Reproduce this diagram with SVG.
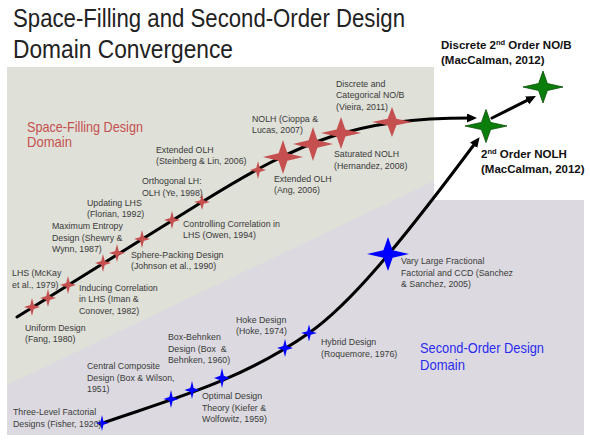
<svg xmlns="http://www.w3.org/2000/svg" xmlns:xlink="http://www.w3.org/1999/xlink" width="590" height="441" viewBox="0 0 590 441">
<style>
.lbl{font-family:"Liberation Sans",Arial,sans-serif;font-size:8.8px;fill:#3a3a3a}
.bold{font-family:"Liberation Sans",Arial,sans-serif;font-size:11.5px;font-weight:bold;fill:#111}
.title{font-family:"Liberation Sans",Arial,sans-serif;font-size:26px;fill:#222}
.head{font-family:"Liberation Sans",Arial,sans-serif;font-size:14.5px}
.red{fill:#c5504f}
.blue{fill:#0000ff}
.green{fill:#0a7d0a;stroke:#064d06;stroke-width:0.8}
.curve{fill:none;stroke:#000;stroke-width:3;stroke-linecap:round}
</style>
<defs>
<path id="star" d="M0,-1 L0.22,-0.22 L1,0 L0.22,0.22 L0,1 L-0.22,0.22 L-1,0 L-0.22,-0.22 Z"/>
<marker id="arr" markerWidth="12" markerHeight="10" refX="4" refY="4.5" orient="auto" markerUnits="userSpaceOnUse">
<path d="M0,0 L10,4.5 L0,9 Z" fill="#000"/>
</marker>
</defs>

<rect width="590" height="441" fill="#fff"/>
<g id="backgrounds">
<rect x="7" y="67" width="427" height="330" fill="#dfe0d8"/>
<polygon points="7,385 434,181 434,200 584,200 584,435 7,435" fill="#dcdae0"/>
</g>

<g id="title">
<text class="title" x="13" y="27" textLength="392" lengthAdjust="spacingAndGlyphs">Space-Filling and Second-Order Design</text>
<text class="title" x="13" y="58" textLength="220" lengthAdjust="spacingAndGlyphs">Domain Convergence</text>
</g>

<g id="domain-labels">
<text class="head" fill="#c5504f" x="27" y="132" textLength="116" lengthAdjust="spacingAndGlyphs">Space-Filling Design</text>
<text class="head" fill="#c5504f" x="27" y="147" textLength="45" lengthAdjust="spacingAndGlyphs">Domain</text>
<text class="head" fill="#2b2bf0" x="420" y="353" textLength="124" lengthAdjust="spacingAndGlyphs">Second-Order Design</text>
<text class="head" fill="#2b2bf0" x="420" y="370" textLength="45" lengthAdjust="spacingAndGlyphs">Domain</text>
</g>

<g id="connectors">
<path class="curve" d="M17,317 L202,202 C302,140 356,118 471,118" marker-end="url(#arr)"/>
<path class="curve" d="M100,424 C170,399.5 239,382 309,333 C349,305 397,248 476,142" marker-end="url(#arr)"/>
<path class="curve" d="M492,118 L530.6,98.7" marker-end="url(#arr)"/>
</g>

<g id="uniform">
<use xlink:href="#star" class="red" transform="translate(32,307) scale(8,9)"/>
<text class="lbl" x="25" y="331">Uniform Design</text>
<text class="lbl" x="25" y="342">(Fang, 1980)</text>
</g>
<g id="lhs-mckay">
<use xlink:href="#star" class="red" transform="translate(48,298) scale(8,9)"/>
<text class="lbl" x="12" y="276">LHS (McKay</text>
<text class="lbl" x="12" y="288">et al., 1979)</text>
</g>
<g id="inducing">
<use xlink:href="#star" class="red" transform="translate(68,285) scale(8,9)"/>
<text class="lbl" x="79" y="291">Inducing Correlation</text>
<text class="lbl" x="79" y="302">in LHS (Iman &amp;</text>
<text class="lbl" x="79" y="314">Conover, 1982)</text>
</g>
<g id="max-entropy">
<use xlink:href="#star" class="red" transform="translate(103,263) scale(8,9)"/>
<text class="lbl" x="52" y="229">Maximum Entropy</text>
<text class="lbl" x="52" y="241">Design (Shewry &amp;</text>
<text class="lbl" x="52" y="252">Wynn, 1987)</text>
</g>
<g id="sphere">
<use xlink:href="#star" class="red" transform="translate(117,253) scale(8,9)"/>
<text class="lbl" x="131" y="258">Sphere-Packing Design</text>
<text class="lbl" x="131" y="269">(Johnson et al., 1990)</text>
</g>
<g id="updating">
<use xlink:href="#star" class="red" transform="translate(142,239) scale(8,9)"/>
<text class="lbl" x="87" y="206">Updating LHS</text>
<text class="lbl" x="87" y="217">(Florian, 1992)</text>
</g>
<g id="controlling">
<use xlink:href="#star" class="red" transform="translate(172,220) scale(8,9)"/>
<text class="lbl" x="183" y="227">Controlling Correlation in</text>
<text class="lbl" x="183" y="238">LHS (Owen, 1994)</text>
</g>
<g id="olh">
<use xlink:href="#star" class="red" transform="translate(202,202) scale(8,8)"/>
<text class="lbl" x="142" y="184">Orthogonal LH:</text>
<text class="lbl" x="142" y="196">OLH (Ye, 1998)</text>
</g>
<g id="ext-olh-steinberg">
<use xlink:href="#star" class="red" transform="translate(258,170) scale(8,9)"/>
<text class="lbl" x="156" y="153">Extended OLH</text>
<text class="lbl" x="156" y="164">(Steinberg &amp; Lin, 2006)</text>
</g>
<g id="ext-olh-ang">
<use xlink:href="#star" class="red" transform="translate(283,157) scale(20,17)"/>
<text class="lbl" x="274" y="182">Extended OLH</text>
<text class="lbl" x="274" y="193">(Ang, 2006)</text>
</g>
<g id="nolh">
<use xlink:href="#star" class="red" transform="translate(313,144) scale(20,17)"/>
<text class="lbl" x="252" y="122">NOLH (Cioppa &amp;</text>
<text class="lbl" x="252" y="133">Lucas, 2007)</text>
</g>
<g id="saturated">
<use xlink:href="#star" class="red" transform="translate(341,133) scale(20,16)"/>
<text class="lbl" x="334" y="157">Saturated NOLH</text>
<text class="lbl" x="334" y="169">(Hernandez, 2008)</text>
</g>
<g id="discrete-nob">
<use xlink:href="#star" class="red" transform="translate(392,122) scale(20,15)"/>
<text class="lbl" x="336" y="87">Discrete and</text>
<text class="lbl" x="336" y="98">Categorical NO/B</text>
<text class="lbl" x="336" y="110">(Vieira, 2011)</text>
</g>

<g id="three-level">
<use xlink:href="#star" class="blue" transform="translate(102,423) scale(6.5,8)"/>
<text class="lbl" x="13" y="415">Three-Level Factorial</text>
<text class="lbl" x="13" y="427">Designs (Fisher, 1920)</text>
</g>
<g id="ccd">
<use xlink:href="#star" class="blue" transform="translate(171,399) scale(7.5,9)"/>
<text class="lbl" x="87" y="369">Central Composite</text>
<text class="lbl" x="87" y="381">Design (Box &amp; Wilson,</text>
<text class="lbl" x="87" y="392">1951)</text>
</g>
<g id="optimal">
<use xlink:href="#star" class="blue" transform="translate(192,390) scale(7.5,9)"/>
<text class="lbl" x="202" y="399">Optimal Design</text>
<text class="lbl" x="202" y="411">Theory (Kiefer &amp;</text>
<text class="lbl" x="202" y="422">Wolfowitz, 1959)</text>
</g>
<g id="box-behnken">
<use xlink:href="#star" class="blue" transform="translate(222,378) scale(8,10)"/>
<text class="lbl" x="168" y="340">Box-Behnken</text>
<text class="lbl" x="168" y="352" xml:space="preserve">Design (Box  &amp;</text>
<text class="lbl" x="168" y="363">Behnken, 1960)</text>
</g>
<g id="hoke">
<use xlink:href="#star" class="blue" transform="translate(285,348) scale(8,9)"/>
<text class="lbl" x="236" y="323">Hoke Design</text>
<text class="lbl" x="236" y="334">(Hoke, 1974)</text>
</g>
<g id="hybrid">
<use xlink:href="#star" class="blue" transform="translate(309,333) scale(8,8.5)"/>
<text class="lbl" x="321" y="345">Hybrid Design</text>
<text class="lbl" x="321" y="357">(Roquemore, 1976)</text>
</g>
<g id="vary-large">
<use xlink:href="#star" class="blue" transform="translate(388,254) scale(21,17)"/>
<text class="lbl" x="401" y="264">Vary Large Fractional</text>
<text class="lbl" x="401" y="276">Factorial and CCD (Sanchez</text>
<text class="lbl" x="401" y="287">&amp; Sanchez, 2005)</text>
</g>

<g id="second-order-nolh">
<path class="green" d="M486,109.5 L490.6,122.4 L507,126 L490.6,129.6 L486,142.5 L481.4,129.6 L465,126 L481.4,122.4 Z"/>
<text class="bold" x="481" y="158">2<tspan font-size="7.5" dy="-4">nd</tspan><tspan dy="4"> Order NOLH</tspan></text>
<text class="bold" x="481" y="173">(MacCalman, 2012)</text>
</g>
<g id="discrete-second-order">
<path class="green" d="M543,71 L547.4,83.5 L563,87 L547.4,90.5 L543,103 L538.6,90.5 L523,87 L538.6,83.5 Z"/>
<text class="bold" x="441" y="49">Discrete 2<tspan font-size="7.5" dy="-4">nd</tspan><tspan dy="4"> Order NO/B</tspan></text>
<text class="bold" x="441" y="64">(MacCalman, 2012)</text>
</g>
</svg>
